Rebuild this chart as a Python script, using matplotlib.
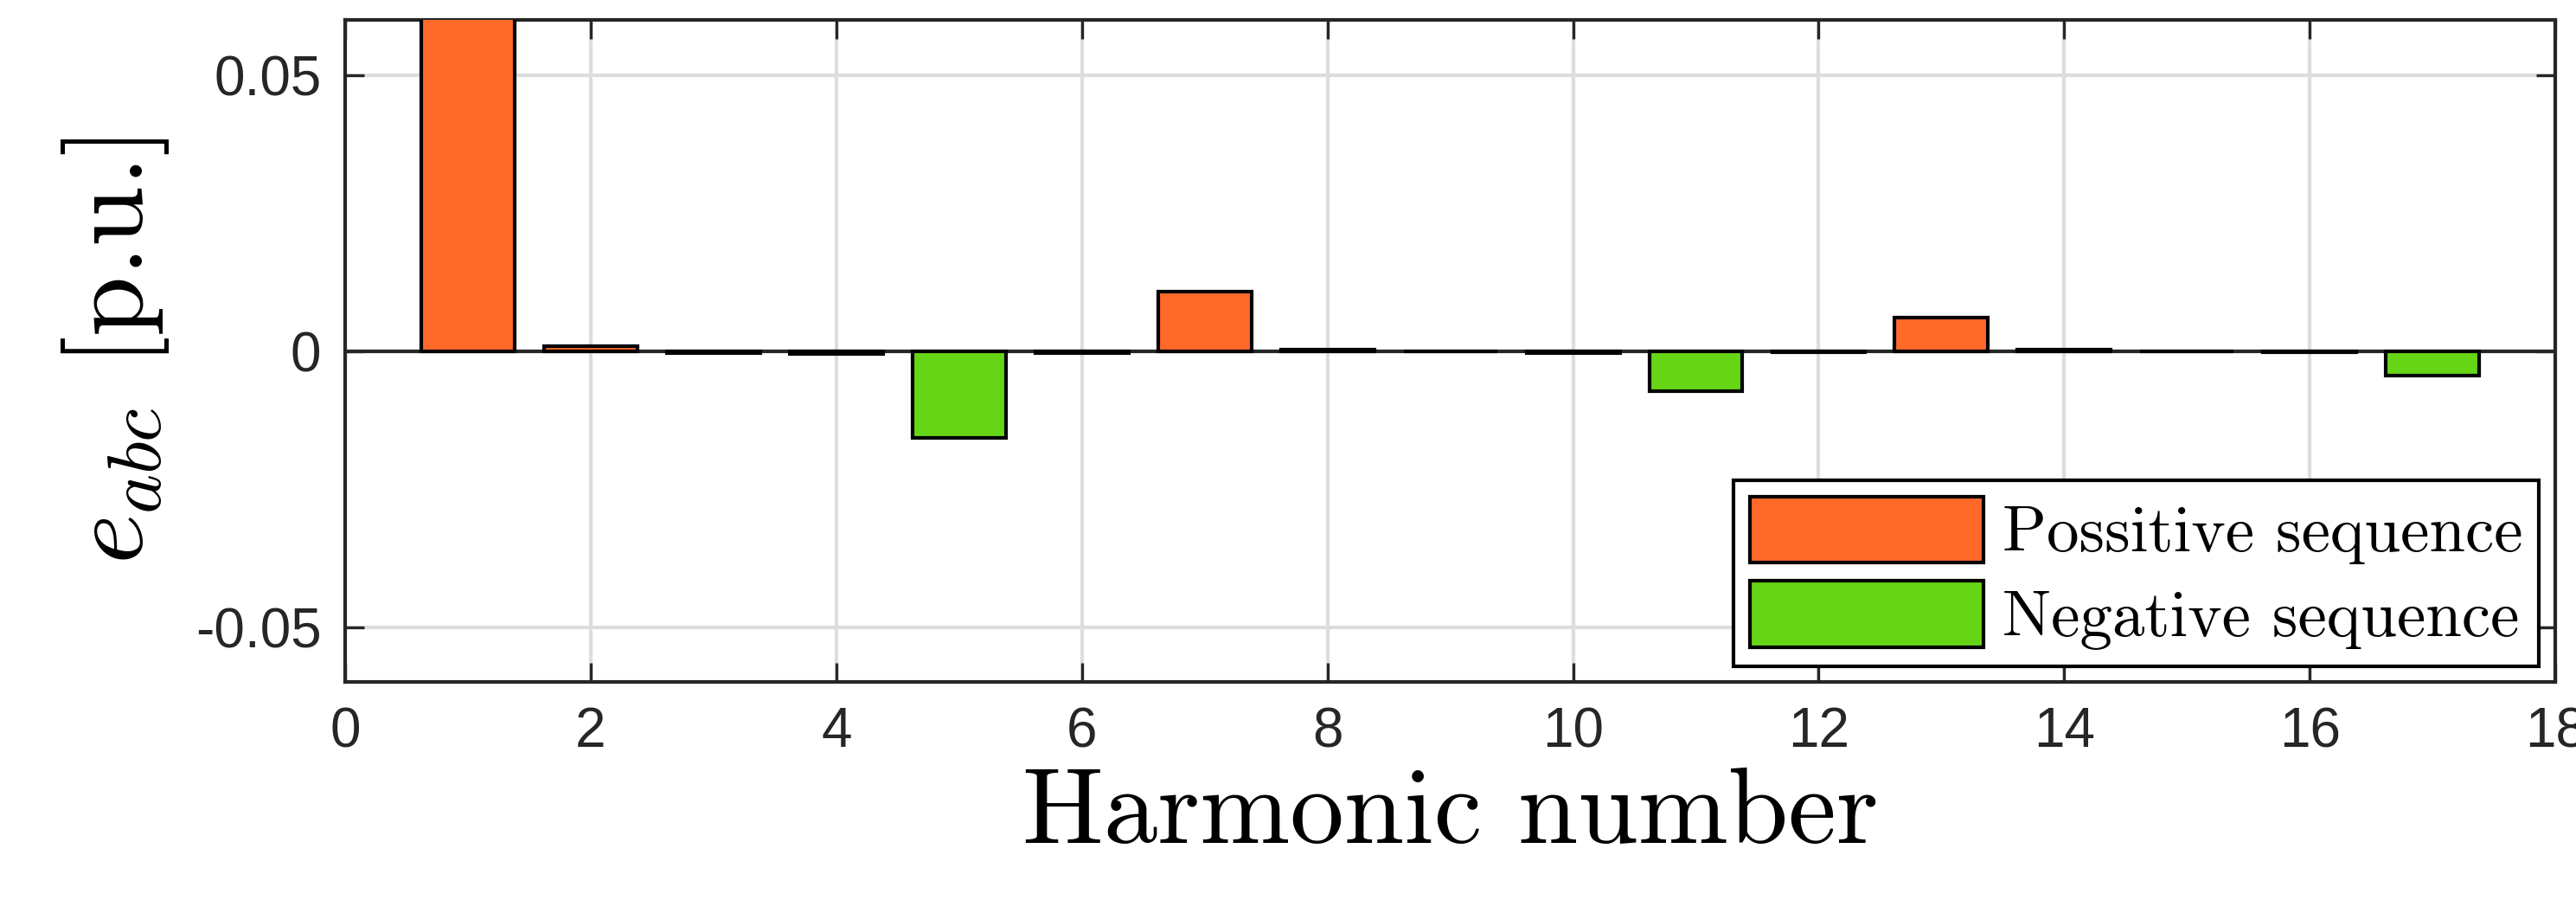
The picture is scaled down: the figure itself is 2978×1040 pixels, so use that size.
import numpy as np
import matplotlib.pyplot as plt

plt.rcParams['mathtext.fontset'] = 'cm'
plt.rcParams['font.family'] = ['Liberation Sans', 'DejaVu Sans']

# harmonic content (p.u.)
pos_h = [1, 2, 3, 4, 6, 7, 8, 9, 10, 12, 13, 14, 15, 16]
pos_v = [1.0, 0.0008, -0.0003, -0.0006, -0.0004, 0.0108, 0.0002, -0.0001,
         -0.0003, -0.0002, 0.006, 0.0002, 0.0, -0.0002]
neg_h = [5, 11, 17]
neg_v = [-0.0157, -0.0072, -0.0045]

fig = plt.figure(figsize=(14.89, 5.2), dpi=200)
ax = fig.add_axes([0.134, 0.242, 0.858, 0.736])

ax.bar(pos_h, pos_v, width=0.76, color='#ff6a2a', edgecolor='black', lw=1.5,
       label='Possitive sequence', zorder=3)
ax.bar(neg_h, neg_v, width=0.76, color='#66d516', edgecolor='black', lw=1.5,
       label='Negative sequence', zorder=3)
ax.axhline(0, color='#262626', lw=1.5, zorder=2)

ax.set_xlim(0, 18)
ax.set_ylim(-0.06, 0.06)
ax.set_xticks(np.arange(0, 19, 2))
ax.set_yticks([-0.05, 0, 0.05])
ax.set_yticklabels(['-0.05', '0', '0.05'])
ax.grid(True, color='#dddddd', lw=1.5, zorder=0)
ax.set_axisbelow(True)
ax.tick_params(labelsize=23, direction='in', length=8, width=1.2, pad=10,
               top=True, right=True, colors='#262626')
for s in ax.spines.values():
    s.set_linewidth(1.5)
    s.set_color('#262626')

ax.set_xlabel('Harmonic number', fontsize=45, family='cmr10', labelpad=4)
ax.set_ylabel(r'$e_{abc}$ [p.u.]', fontsize=45, family='cmr10', labelpad=10)

leg = ax.legend(loc='lower right', prop={'family': 'cmr10', 'size': 27},
                fancybox=False, framealpha=1, edgecolor='black',
                handlelength=3.6, handleheight=1.2, borderaxespad=0.25,
                handletextpad=0.3, labelspacing=0.25, borderpad=0.25)
leg.get_frame().set_linewidth(1.5)

fig.savefig('out.png')
